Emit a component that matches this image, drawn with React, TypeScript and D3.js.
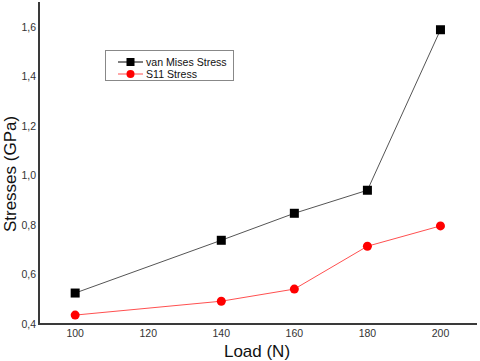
import { useEffect, useRef } from 'react';
import * as d3 from 'd3';

const loads = [100, 140, 160, 180, 200];
const vonMises = [0.525, 0.738, 0.847, 0.94, 1.588];
const s11 = [0.436, 0.492, 0.541, 0.714, 0.796];
const xTicks = [100, 120, 140, 160, 180, 200];
const yTicks = [0.4, 0.6, 0.8, 1.0, 1.2, 1.4, 1.6];

const W = 480;
const H = 361;

const App = () => {
  const svgRef = useRef<SVGSVGElement>(null);

  useEffect(() => {
    const svg = d3.select(svgRef.current);
    svg.selectAll('*').remove();

    const left = 39, right = 477, top = 2, bottom = 324;
    const x = d3.scaleLinear().domain([90.1, 210]).range([left, right]);
    const y = d3.scaleLinear().domain([0.4, 1.7]).range([bottom, top]);
    const font = 'Arial, "Liberation Sans", sans-serif';

    // axes
    svg.append('line')
      .attr('x1', left).attr('x2', left).attr('y1', top).attr('y2', bottom + 1)
      .attr('stroke', '#3a3a3a').attr('stroke-width', 2);
    svg.append('line')
      .attr('x1', left - 1).attr('x2', right).attr('y1', bottom).attr('y2', bottom)
      .attr('stroke', '#3a3a3a').attr('stroke-width', 2);

    svg.append('g').selectAll('text').data(xTicks).enter().append('text')
      .attr('x', d => x(d)).attr('y', bottom + 13)
      .attr('text-anchor', 'middle')
      .style('font-family', font).style('font-size', '10.5px').attr('fill', '#333')
      .text(d => d);

    svg.append('g').selectAll('text').data(yTicks).enter().append('text')
      .attr('x', left - 3).attr('y', d => y(d) + 4)
      .attr('text-anchor', 'end')
      .style('font-family', font).style('font-size', '10.5px').attr('fill', '#333')
      .text(d => d.toFixed(1).replace('.', ','));

    svg.append('text')
      .attr('x', 257).attr('y', 357)
      .attr('text-anchor', 'middle')
      .style('font-family', font).style('font-size', '17px').attr('fill', '#111')
      .text('Load (N)');
    svg.append('text')
      .attr('transform', `translate(16, 174) rotate(-90)`)
      .attr('text-anchor', 'middle')
      .style('font-family', font).style('font-size', '17px').attr('fill', '#111')
      .text('Stresses (GPa)');

    const line = d3.line<[number, number]>().x(d => x(d[0])).y(d => y(d[1]));
    const vmPts = loads.map((l, i) => [l, vonMises[i]] as [number, number]);
    const s11Pts = loads.map((l, i) => [l, s11[i]] as [number, number]);

    svg.append('path').attr('d', line(vmPts)!)
      .attr('fill', 'none').attr('stroke', '#555').attr('stroke-width', 1);
    svg.append('path').attr('d', line(s11Pts)!)
      .attr('fill', 'none').attr('stroke', '#ff5050').attr('stroke-width', 1);

    svg.append('g').selectAll('rect').data(vmPts).enter().append('rect')
      .attr('x', d => x(d[0]) - 4.5).attr('y', d => y(d[1]) - 4.5)
      .attr('width', 9).attr('height', 9).attr('fill', '#000');
    svg.append('g').selectAll('circle').data(s11Pts).enter().append('circle')
      .attr('cx', d => x(d[0])).attr('cy', d => y(d[1]))
      .attr('r', 4.5).attr('fill', '#ff0000');

    // legend
    const lg = svg.append('g');
    lg.append('rect').attr('x', 105.5).attr('y', 50.5).attr('width', 128).attr('height', 30)
      .attr('fill', '#fff').attr('stroke', '#888').attr('stroke-width', 1);
    lg.append('line').attr('x1', 118).attr('x2', 143).attr('y1', 62).attr('y2', 62)
      .attr('stroke', '#000').attr('stroke-width', 1);
    lg.append('rect').attr('x', 126.5).attr('y', 58).attr('width', 8).attr('height', 8).attr('fill', '#000');
    lg.append('line').attr('x1', 118).attr('x2', 143).attr('y1', 74).attr('y2', 74)
      .attr('stroke', '#ff5050').attr('stroke-width', 1);
    lg.append('circle').attr('cx', 130.5).attr('cy', 74).attr('r', 4).attr('fill', '#ff0000');
    lg.append('text').attr('x', 146).attr('y', 66)
      .style('font-family', font).style('font-size', '10.6px').attr('fill', '#111')
      .text('van Mises Stress');
    lg.append('text').attr('x', 146).attr('y', 78)
      .style('font-family', font).style('font-size', '10.6px').attr('fill', '#111')
      .text('S11 Stress');
  }, []);

  return (
    <svg ref={svgRef} width={W} height={H}
      style={{ position: 'absolute', left: 0, top: 0, background: '#fff' }} />
  );
};

export default App;
